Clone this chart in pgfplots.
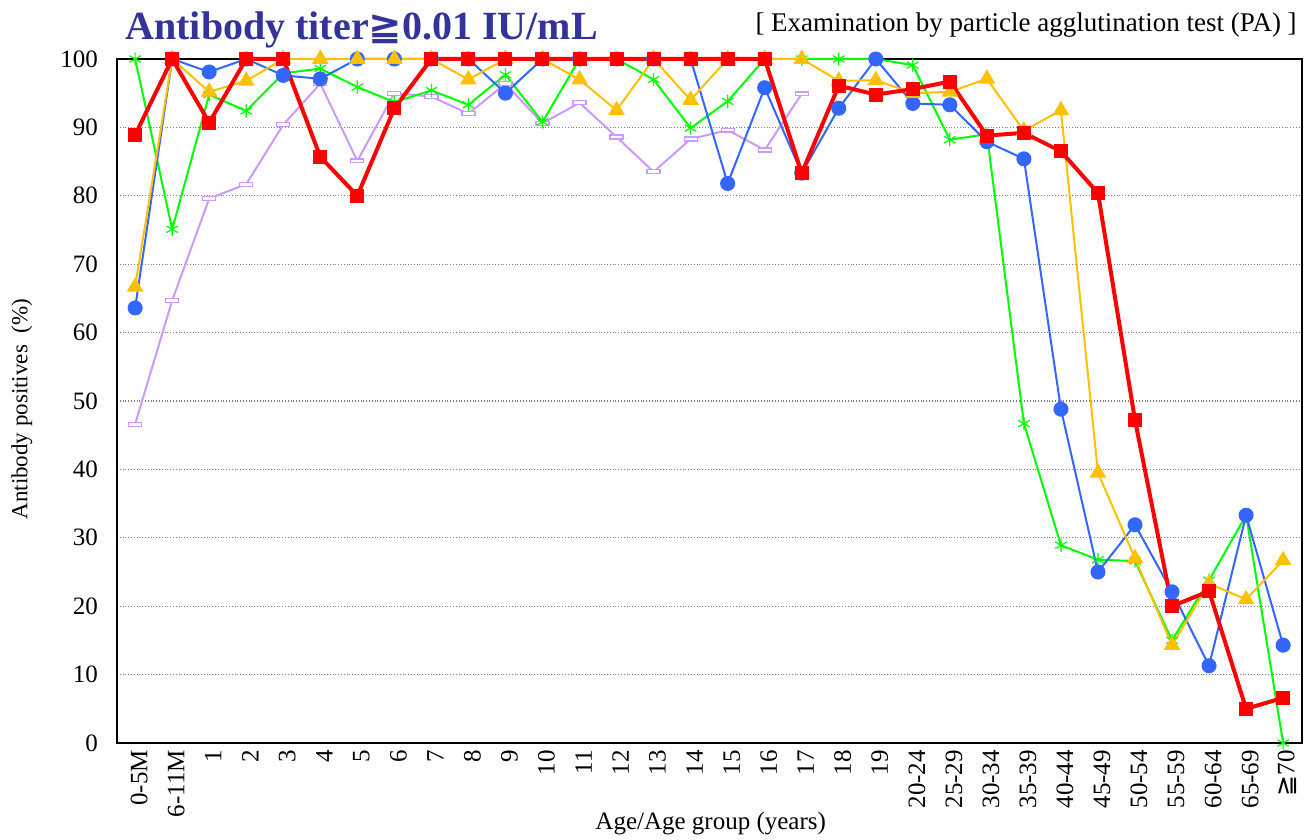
\documentclass[border=0pt]{standalone}
\usepackage{fontspec}
\setmainfont{Liberation Serif}
\newfontfamily\symfont{DejaVu Sans}
\usepackage{pgfplots}
\pgfplotsset{compat=1.18}
\definecolor{cred}{HTML}{FF0000}
\definecolor{cblue}{HTML}{3366FF}
\definecolor{cyel}{HTML}{FFC000}
\definecolor{cgreen}{HTML}{00FF00}
\definecolor{cpurp}{HTML}{CC99FF}
\definecolor{ctitle}{HTML}{333399}
\begin{document}
\begin{tikzpicture}
\path[use as bounding box] (-58.5pt,-48pt) rectangle (596pt,371.5pt);
\begin{axis}[
  at={(0,0)}, anchor=south west,
  scale only axis, width=592.5pt, height=342pt,
  xmin=-0.49, xmax=31.51, ymin=0, ymax=100,
  ytick={0,10,...,100}, xtick={0,...,31},
  xticklabels={0-5M,6-11M,1,2,3,4,5,6,7,8,9,10,11,12,13,14,15,16,17,18,19,20-24,25-29,30-34,35-39,40-44,45-49,50-54,55-59,60-64,65-69,{{\symfont ≧}70}},
  ymajorgrids, grid style={densely dotted, gray, line width=0.6pt},
  major tick length=0pt,
  axis line style={line width=0.8pt},
  /pgf/number format/assume math mode=true,
  tick label style={font=\fontsize{12.5}{14}\selectfont},
  xticklabel style={rotate=90, anchor=east, yshift=-2pt},
  yticklabel style={xshift=-6pt},
  clip=false,
]
% purple
\addplot[color=cpurp, line width=1pt, mark=square*, mark options={fill=white, draw=cpurp, line width=0.6pt, yscale=0.3}, mark size=3.25pt] coordinates {
(0,46.6)(1,64.7)(2,79.6)(3,81.7)(4,90.4)(5,96.4)(6,85.1)(7,95.0)(8,94.5)(9,92.0)(10,96.4)(11,90.6)(12,93.6)(13,88.6)(14,83.5)(15,88.3)(16,89.6)(17,86.7)(18,94.9)};
% green
\addplot[color=cgreen, line width=1pt, mark=asterisk, mark options={line width=0.6pt}, mark size=3.3pt] coordinates {
(0,100)(1,75.1)(2,94.8)(3,92.4)(4,97.9)(5,98.6)(6,95.9)(7,93.7)(8,95.4)(9,93.3)(10,97.7)(11,90.8)(12,100)(13,100)(14,97.0)(15,89.9)(16,93.8)(17,100)(18,100)(19,100)(20,100)(21,99.1)(22,88.2)(23,89.0)(24,46.7)(25,28.9)(26,26.8)(27,26.6)(28,15.0)(29,23.8)(30,33.3)(31,0)};
% blue
\addplot[color=cblue, line width=1pt, mark=*, mark options={fill=cblue, draw=cblue}, mark size=3.25pt] coordinates {
(0,63.6)(1,100)(2,98.1)(3,100)(4,97.6)(5,97.1)(6,100)(7,100)(8,100)(9,100)(10,95.0)(11,100)(12,100)(13,100)(14,100)(15,100)(16,81.8)(17,95.8)(18,83.3)(19,92.8)(20,100)(21,93.5)(22,93.3)(23,87.9)(24,85.4)(25,48.8)(26,25.0)(27,31.9)(28,22.1)(29,11.3)(30,33.3)(31,14.3)};
% yellow
\addplot[color=cyel, line width=1pt, mark=triangle*, mark options={fill=cyel, draw=cyel}, mark size=3.8pt] coordinates {
(0,66.7)(1,100)(2,95.2)(3,96.8)(4,100)(5,100)(6,100)(7,100)(8,100)(9,97.0)(10,100)(11,100)(12,97.0)(13,92.5)(14,100)(15,94.0)(16,100)(17,100)(18,100)(19,96.8)(20,96.9)(21,95.0)(22,95.2)(23,97.1)(24,89.5)(25,92.5)(26,39.5)(27,27.0)(28,14.3)(29,23.3)(30,21.0)(31,26.7)};
% red
\addplot[color=cred, line width=2pt, mark=square*, mark options={fill=cred, draw=cred, line width=0.5pt}, mark size=3.25pt] coordinates {
(0,88.9)(1,100)(2,90.7)(3,100)(4,100)(5,85.7)(6,80.0)(7,92.8)(8,100)(9,100)(10,100)(11,100)(12,100)(13,100)(14,100)(15,100)(16,100)(17,100)(18,83.3)(19,96.1)(20,94.8)(21,95.6)(22,96.7)(23,88.8)(24,89.2)(25,86.5)(26,80.4)(27,47.2)(28,20.0)(29,22.2)(30,5.0)(31,6.6)};
\node[rotate=90, anchor=center, font=\fontsize{11.5}{13}\selectfont] at (axis description cs:-0.0802,0.488) {Antibody positives\ \ (\%)};
\node[anchor=center, font=\fontsize{12.5}{14}\selectfont] at (axis description cs:0.501,-0.117) {Age/Age group (years)};
\node[anchor=base west, inner sep=0pt, text=ctitle, font=\fontsize{20}{24}\selectfont\bfseries] at (axis description cs:0.0068,1.028) {Antibody titer{\symfont ≧}0.01 IU/mL};
\node[anchor=base east, inner sep=0pt, font=\fontsize{13.5}{16}\selectfont] at (axis description cs:0.9958,1.0395) {[ Examination by particle agglutination test (PA) ]};
\end{axis}
\end{tikzpicture}
\end{document}
